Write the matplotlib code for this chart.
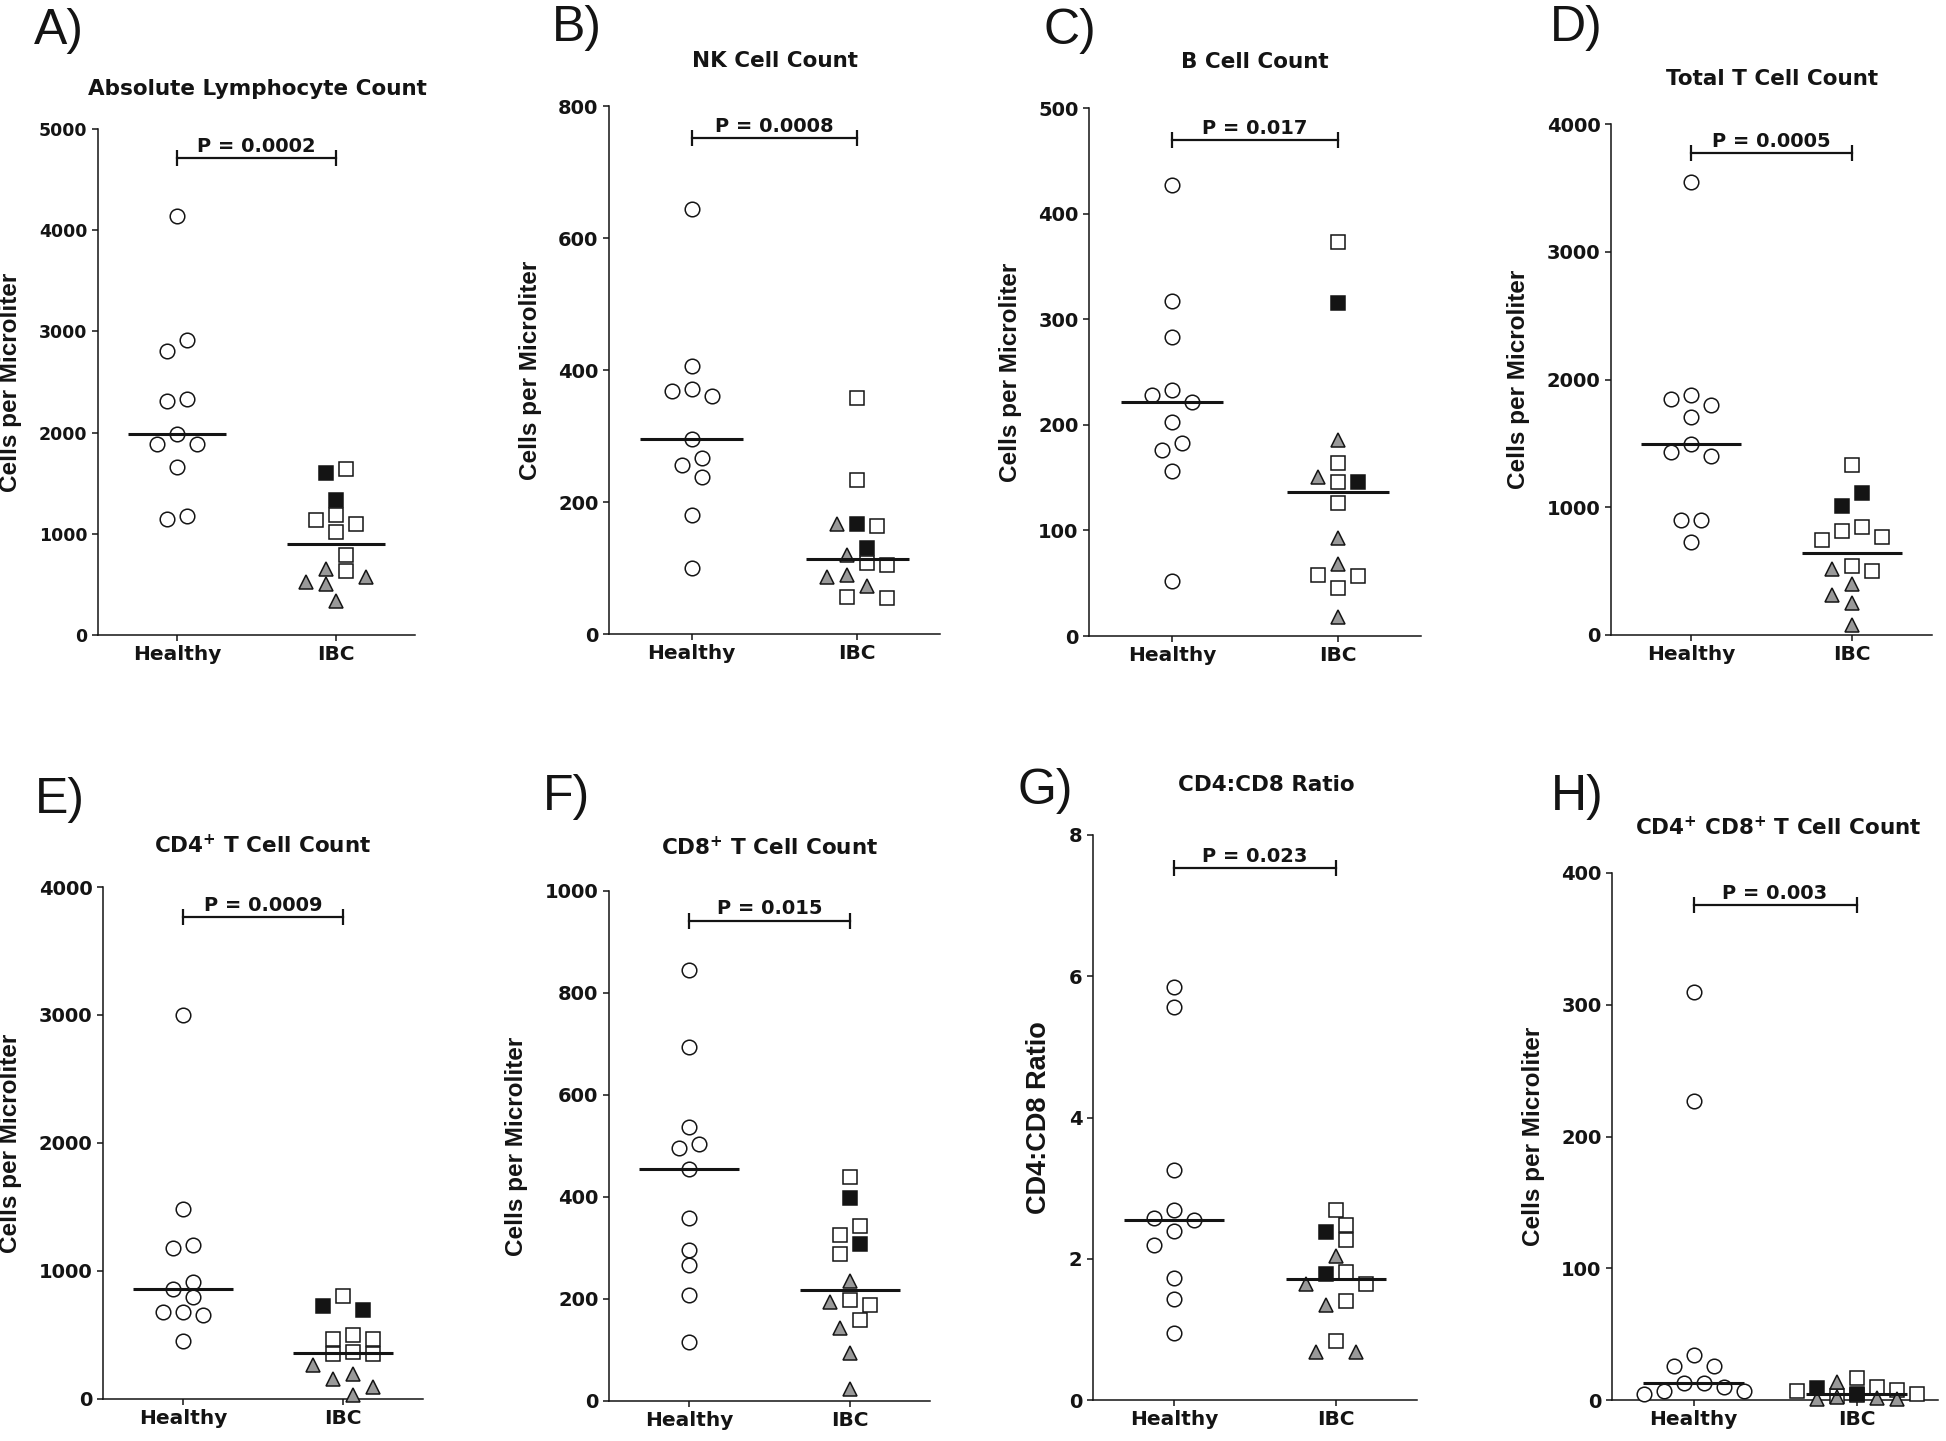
import numpy as np
import matplotlib
matplotlib.use('Agg')
import matplotlib.pyplot as plt

# Prism style scatter: Healthy donors (circles) vs IBC patients (open / filled squares, grey triangles)
groups = ['Healthy', 'IBC']

a_healthy = [4144, 2804, 2911, 2333, 2312, 1986, 1884, 1884, 1661, 1147, 1177]
a_open = [1640, 1186, 1092, 1134, 1015, 792, 634]
a_filled = [1605, 1336]
a_tri = [650, 578, 500, 527, 334]

b_healthy = [644, 406, 371, 361, 368, 296, 267, 256, 238, 181, 100]
b_open = [358, 233, 164, 107, 104, 55, 56]
b_filled = [166, 130]
b_tri = [166, 120, 89, 86, 73]

c_healthy = [427, 317, 283, 233, 228, 222, 203, 183, 176, 156, 52]
c_open = [373, 164, 146, 126, 57, 58, 45]
c_filled = [315, 146]
c_tri = [186, 151, 93, 68, 18]

d_healthy = [3548, 1878, 1800, 1851, 1705, 1494, 1399, 1433, 900, 900, 730]
d_open = [1331, 842, 764, 747, 815, 499, 543]
d_filled = [1114, 1012]
d_tri = [520, 401, 316, 248, 78]

e_healthy = [2997, 1485, 1205, 1181, 915, 863, 797, 681, 653, 681, 454]
e_open = [803, 472, 472, 500, 367, 349, 349]
e_filled = [727, 699]
e_tri = [262, 157, 199, 94, 35]

f_healthy = [846, 694, 538, 503, 497, 455, 358, 297, 267, 207, 115]
f_open = [440, 343, 325, 289, 199, 188, 159]
f_filled = [398, 308]
f_tri = [236, 195, 144, 94, 24]

g_healthy = [5.85, 5.57, 3.26, 2.69, 2.57, 2.55, 2.39, 2.20, 1.73, 1.43, 0.95]
g_open = [2.69, 2.48, 2.26, 1.81, 1.64, 1.40, 0.84]
g_filled = [2.38, 1.78]
g_tri = [2.04, 1.64, 1.35, 0.68, 0.68]

h_healthy = [310, 227, 34, 26, 26, 13, 13, 9.5, 7, 7, 4.4]
h_open = [16.4, 9.6, 7.8, 7.0, 4.6, 3.6, 3.0]
h_filled = [8.8, 4.8]
h_tri = [13.9, 2.0, 1.3, 0.5, 0.5]

cells = 'Cells per Microliter'
panels = [
    dict(letter='A)', title='Absolute Lymphocyte Count', ylabel=cells, ymax=5000, step=1000,
         p='P = 0.0002', bracket=4717, data=(a_healthy, a_open, a_filled, a_tri)),
    dict(letter='B)', title='NK Cell Count', ylabel=cells, ymax=800, step=200,
         p='P = 0.0008', bracket=752, data=(b_healthy, b_open, b_filled, b_tri)),
    dict(letter='C)', title='B Cell Count', ylabel=cells, ymax=500, step=100,
         p='P = 0.017', bracket=470, data=(c_healthy, c_open, c_filled, c_tri)),
    dict(letter='D)', title='Total T Cell Count', ylabel=cells, ymax=4000, step=1000,
         p='P = 0.0005', bracket=3776, data=(d_healthy, d_open, d_filled, d_tri)),
    dict(letter='E)', title=r'CD4$^{\mathbf{+}}$ T Cell Count', ylabel=cells, ymax=4000, step=1000,
         p='P = 0.0009', bracket=3766, data=(e_healthy, e_open, e_filled, e_tri)),
    dict(letter='F)', title=r'CD8$^{\mathbf{+}}$ T Cell Count', ylabel=cells, ymax=1000, step=200,
         p='P = 0.015', bracket=942, data=(f_healthy, f_open, f_filled, f_tri)),
    dict(letter='G)', title='CD4:CD8 Ratio', ylabel='CD4:CD8 Ratio', ymax=8, step=2,
         p='P = 0.023', bracket=7.53, data=(g_healthy, g_open, g_filled, g_tri)),
    dict(letter='H)', title=r'CD4$^{\mathbf{+}}$ CD8$^{\mathbf{+}}$ T Cell Count', ylabel=cells, ymax=400, step=100,
         p='P = 0.003', bracket=376, data=(h_healthy, h_open, h_filled, h_tri)),
]

# layout in pixels of the 1946x1441 canvas: axes box (x0, x1, top, bottom), letter (x, baseline), title (x, y)
boxes = [(98, 415, 129, 635), (609, 940, 106, 634), (1089, 1421, 108, 636), (1611, 1932, 124, 635),
         (103, 423, 887, 1399), (609, 930, 891, 1401), (1093, 1417, 835, 1400), (1612, 1938, 873, 1400)]
letters_at = [(34, 44), (552, 41), (1043, 44), (1550, 41),
              (35, 813), (543, 810), (1018, 804), (1551, 810)]
titles_at = [(257, 89), (775, 61), (1255, 62), (1772, 79),
             (263, 845), (770, 847), (1266, 785), (1778, 827)]
ytick_size = [12.5, 14, 14, 14, 14, 14, 14, 14]
ylabel_size = [17.5, 17.5, 17.5, 17.5, 17.5, 17.5, 19.5, 17.5]

W, H = 1946, 1441
INK = '#141414'
BOLD = dict(family='DejaVu Sans', weight='bold')
ARIAL = ['Liberation Sans', 'DejaVu Sans']


def swarm(ax, xc, vals, slot=10.0, diam=14.5, kmax=6):
    # place points on a half-marker grid so that they do not overlap (like Prism does)
    vals = np.asarray(vals, dtype=float)
    n = len(vals)
    ys = ax.transData.transform(np.column_stack([np.full(n, xc), vals]))[:, 1]
    k = np.zeros(n)
    placed = []
    cands = [0] + [s * i for i in range(1, kmax + 1) for s in (-1, 1)]
    for i in np.argsort(-vals, kind='stable'):
        best, best_hits = 0, None
        for c in cands:
            hits = sum(1 for j in placed if abs(ys[i] - ys[j]) < diam and abs(c - k[j]) < 2)
            if hits == 0:
                best = c
                break
            if best_hits is None or hits < best_hits:
                best, best_hits = c, hits
        k[i] = best
        placed.append(i)
    # recentre every cluster of touching points
    seen = np.zeros(n, dtype=bool)
    for i in range(n):
        if seen[i]:
            continue
        stack, comp = [i], []
        seen[i] = True
        while stack:
            a = stack.pop()
            comp.append(a)
            for b in range(n):
                if not seen[b] and abs(ys[a] - ys[b]) < diam:
                    seen[b] = True
                    stack.append(b)
        comp = np.array(comp)
        k[comp] -= (k[comp].min() + k[comp].max()) / 2
    px_per_unit = ax.transData.transform([(1, 0)])[0, 0] - ax.transData.transform([(0, 0)])[0, 0]
    return xc + k * slot / px_per_unit


fig = plt.figure(figsize=(W / 100, H / 100), dpi=100)

for i, p in enumerate(panels):
    x0, x1, top, bot = boxes[i]
    ax = fig.add_axes([x0 / W, 1 - bot / H, (x1 - x0) / W, (bot - top) / H])
    ax.set_xlim(-0.5, 1.5)
    ax.set_ylim(0, p['ymax'])
    ax.set_yticks(np.arange(0, p['ymax'] + p['step'] / 2, p['step']))
    ax.set_xticks([0, 1])
    ax.set_xticklabels(groups)
    for s in ['top', 'right']:
        ax.spines[s].set_visible(False)
    for s in ['left', 'bottom']:
        ax.spines[s].set_linewidth(1.1)
        ax.spines[s].set_color(INK)
    ax.tick_params(axis='both', direction='out', length=4, width=1.1, color=INK, labelcolor=INK)
    for lab in ax.get_yticklabels():
        lab.set_fontsize(ytick_size[i])
        lab.set_fontweight('bold')
    for lab in ax.get_xticklabels():
        lab.set_fontsize(14.5)
        lab.set_fontweight('bold')
    ax.set_ylabel(p['ylabel'], fontsize=ylabel_size[i], fontweight='bold', family=ARIAL,
                  color=INK, labelpad=12)

    healthy, ibc_open, ibc_filled, ibc_tri = p['data']
    ibc = list(ibc_open) + list(ibc_filled) + list(ibc_tri)
    xs_h = swarm(ax, 0, healthy)
    xs_i = swarm(ax, 1, ibc)
    n1, n2 = len(ibc_open), len(ibc_open) + len(ibc_filled)

    common = dict(ls='none', mec=INK, mew=1.1, clip_on=False, zorder=3)
    ax.plot(xs_h, healthy, marker='o', ms=10.5, mfc='white', **common)
    ax.plot(xs_i[:n1], ibc_open, marker='s', ms=9.6, mfc='white', **common)
    ax.plot(xs_i[n1:n2], ibc_filled, marker='s', ms=9.6, mfc=INK, **common)
    ax.plot(xs_i[n2:], ibc_tri, marker='^', ms=10.5, mfc='#999999', **common)

    # median lines
    for xc, vals in [(0, healthy), (1, ibc)]:
        ax.hlines(np.median(vals), xc - 0.31, xc + 0.31, color=INK, lw=2.2, zorder=4)

    # significance bracket
    ax.plot([0, 1], [p['bracket']] * 2, color=INK, lw=1.6, marker='|', ms=11, mew=1.6, clip_on=False)
    ax.annotate(p['p'], xy=(0.5, p['bracket']), xytext=(0, 1.5), textcoords='offset points',
                ha='center', va='bottom', fontsize=14, color=INK, **BOLD)

    lx, ly = letters_at[i]
    fig.text(lx / W, 1 - ly / H, p['letter'], fontsize=36, family=ARIAL, color=INK, va='baseline')
    tx, ty = titles_at[i]
    fig.text(tx / W, 1 - ty / H, p['title'], fontsize=15.5, ha='center', va='center', color=INK, **BOLD)

fig.savefig('out.png', dpi=100)
